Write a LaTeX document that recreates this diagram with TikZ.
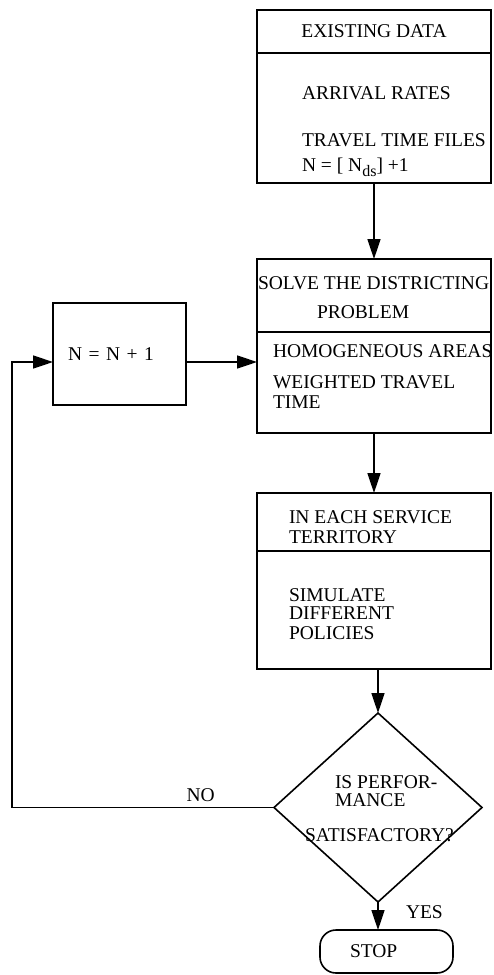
\documentclass[tikz,border=0pt]{standalone}
\usepackage{fontspec}
\setmainfont{Liberation Serif}
\usetikzlibrary{arrows.meta,positioning,shapes.geometric}

\begin{document}
\begin{tikzpicture}[
  x=1pt, y=-1pt,
  font=\fontsize{19.5}{20}\selectfont,
  every node/.style={outer sep=0pt},
  box/.style={draw, line width=1.6pt, inner sep=0pt, minimum width=234pt},
  txt/.style={anchor=north west, align=left, inner sep=0pt},
  arr/.style={-{Triangle[length=20pt,width=13pt]}, line width=1.6pt}
]
  \useasboundingbox (0,0) rectangle (493,975);

  % Existing data
  \node[box, anchor=north west, minimum height=43pt] (dataA) at (257,10) {EXISTING DATA};
  \node[box, minimum height=130pt, below=0pt of dataA] (dataB) {};
  \node[txt] (dataTxt) at ([xshift=45pt,yshift=-33.5pt]dataB.north west)
    {ARRIVAL RATES\\[27pt] TRAVEL TIME FILES\\[5pt]
     N = [ N\raisebox{-5pt}{\fontsize{16}{16}\selectfont ds}] +1};

  % Districting
  \node[box, minimum height=73pt, below=76pt of dataB] (distA) {};
  \node[box, minimum height=101pt, below=0pt of distA] (distB) {};
  \node[txt] (distTxtA) at ([xshift=1pt,yshift=-17.5pt]distA.north west)
    {SOLVE THE DISTRICTING\\[9pt] \hspace*{59pt}PROBLEM};
  \node[txt] (distTxtB) at ([xshift=16pt,yshift=-12.5pt]distB.north west)
    {HOMOGENEOUS AREAS\\[11pt] WEIGHTED TRAVEL\\ TIME};

  % Simulation
  \node[box, minimum height=58pt, below=60pt of distB] (simA) {};
  \node[box, minimum height=118pt, below=0pt of simA] (simB) {};
  \node[txt] (simTxtA) at ([xshift=32pt,yshift=-17.5pt]simA.north west)
    {IN EACH SERVICE\\ TERRITORY};
  \node[txt] (simTxtB) at ([xshift=32pt,yshift=-37.5pt]simB.north west)
    {SIMULATE\\[-2pt] DIFFERENT\\ POLICIES};

  % Decision and stop
  \node[draw, diamond, line width=1.6pt, inner sep=0pt, minimum width=208pt,
    minimum height=189pt, below=44pt of simB, xshift=4pt] (check) {};
  \node[txt] (checkTxt) at ([xshift=31pt,yshift=32pt]check.west)
    {\hspace*{30pt}IS PERFOR-\\[-2pt] \hspace*{30pt}MANCE\\[15pt] SATISFACTORY?};
  \node[draw, rounded corners=16pt, line width=1.6pt, minimum width=133pt,
    minimum height=43pt, text width=73pt, inner xsep=30pt, inner ysep=0pt,
    align=left, below=28pt of check, xshift=8.5pt] (stop) {STOP};

  % Counter
  \node[draw, line width=1.6pt, minimum width=133pt, minimum height=102pt,
    text width=103pt, inner xsep=15pt, align=left, anchor=north west] (inc) at (53,303)
    {N = N + 1};
  \coordinate (incOut) at ([yshift=-8pt]inc.east);
  \coordinate (loopIn) at ([yshift=-8pt]inc.west);

  % Flows
  \draw[arr] (dataB.south) -- (distA.north);
  \draw[arr] (distB.south) -- (simA.north);
  \draw[arr] (simB.south -| check.north) -- (check.north);
  \draw[arr] (check.south) -- node[pos=0.35, right=28pt, inner sep=0pt] (yes) {YES} (check.south |- stop.north);
  \draw[arr] (incOut) -- (incOut -| distB.west);
  \draw[arr] (check.west) -| node[pos=0.14, above=6pt, inner sep=0pt] (no) {NO} ([xshift=-41pt]loopIn) -- (loopIn);
\end{tikzpicture}
\end{document}
